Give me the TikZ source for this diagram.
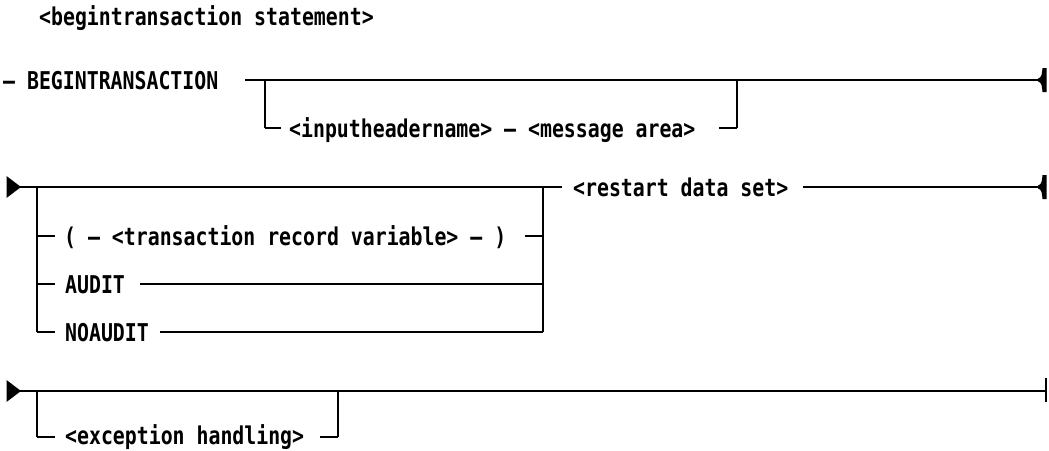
\documentclass[tikz,border=0pt]{standalone}
\usepackage{fontspec}
\newfontfamily\rrfont{DejaVu Sans Mono}[FakeStretch=0.81]
\begin{document}
\begin{tikzpicture}[x=1pt,y=-1pt,
  lbl/.style={font=\rrfont\bfseries\fontsize{24.5}{24.5}\selectfont, inner sep=0pt, anchor=base west},
  hline/.style={line width=2.3pt},
  vline/.style={line width=1.7pt},
  tick/.style={line width=2.1pt}]
\useasboundingbox (0,0) rectangle (1049,450);

% title
\node[lbl] (title) at (39,25) {<begintransaction statement>};

% ---------- row 1 ----------
\node[lbl] (bt) at (3,89) {– BEGINTRANSACTION};
\coordinate (r1s) at (245,80);
\coordinate (r1a) at (265,80);
\coordinate (r1b) at (737,80);
\coordinate (r1e) at (1042,80);
\coordinate (r1bl) at (265,128);
\coordinate (r1tl) at (281,128);
\coordinate (r1tr) at (719,128);
\coordinate (r1br) at (737,128);
\node[lbl] (ihn) at (289,137) {<inputheadername> – <message area>};
\draw[hline] (r1s) -- (r1e);
\draw[vline] (r1a) -- (r1bl);
\draw[tick] (r1bl) -- (r1tl);
\draw[tick] (r1tr) -- (r1br);
\draw[vline] (r1br) -- (r1b);
\fill (1038,78.6) .. controls (1042,77.5) and (1042,73) .. (1042.5,68) -- (1046.5,68) -- (1046.5,92) -- (1042.5,92) .. controls (1042,87) and (1042,82.5) .. (1038,81.4) -- cycle;

% ---------- row 2 ----------
\coordinate (r2s) at (20,187);
\coordinate (r2l) at (37,187);
\coordinate (r2r) at (543,187);
\coordinate (r2m) at (562,187);
\fill (6.5,176) -- (21,187) -- (6.5,198) -- cycle;
\draw[hline] (r2s) -- (r2m);

\node[lbl] (trv) at (64,245) {( – <transaction record variable> – )};
\coordinate (t1l) at (37,236);
\coordinate (t1le) at (55,236);
\coordinate (t1rs) at (525,236);
\coordinate (t1r) at (543,236);
\draw[tick] (t1l) -- (t1le);
\draw[tick] (t1rs) -- (t1r);

\node[lbl] (audit) at (65,293) {AUDIT};
\coordinate (t2l) at (37,284);
\coordinate (t2le) at (55,284);
\coordinate (t2rs) at (140,284);
\coordinate (t2r) at (543,284);
\draw[tick] (t2l) -- (t2le);
\draw[hline] (t2rs) -- (t2r);

\node[lbl] (noaudit) at (65,341) {NOAUDIT};
\coordinate (t3l) at (37,332);
\coordinate (t3le) at (55,332);
\coordinate (t3rs) at (160,332);
\coordinate (t3r) at (543,332);
\draw[tick] (t3l) -- (t3le);
\draw[hline] (t3rs) -- (t3r);

\draw[vline] (r2l) -- (t3l);
\draw[vline] (r2r) -- (t3r);

\node[lbl] (rds) at (573,196) {<restart data set>};
\coordinate (r2ts) at (803,187);
\coordinate (r2e) at (1042,187);
\draw[hline] (r2ts) -- (r2e);
\fill (1038,185.6) .. controls (1042,184.5) and (1042,180) .. (1042.5,175) -- (1046.5,175) -- (1046.5,199) -- (1042.5,199) .. controls (1042,194) and (1042,189.5) .. (1038,188.4) -- cycle;

% ---------- row 3 ----------
\coordinate (r3s) at (20,391);
\coordinate (r3l) at (37,391);
\coordinate (r3r) at (338,391);
\coordinate (r3e) at (1046,391);
\coordinate (r3et) at (1046,378);
\coordinate (r3eb) at (1046,402);
\fill (6.5,380) -- (21,391) -- (6.5,402) -- cycle;
\draw[hline] (r3s) -- (r3e);
\draw[line width=1.2pt] (r3et) -- (r3eb);

\node[lbl] (exh) at (65,444.5) {<exception handling>};
\coordinate (e1l) at (37,437);
\coordinate (e1le) at (55,437);
\coordinate (e1rs) at (320,437);
\coordinate (e1r) at (338,437);
\draw[vline] (r3l) -- (e1l);
\draw[tick] (e1l) -- (e1le);
\draw[tick] (e1rs) -- (e1r);
\draw[vline] (e1r) -- (r3r);
\end{tikzpicture}
\end{document}
